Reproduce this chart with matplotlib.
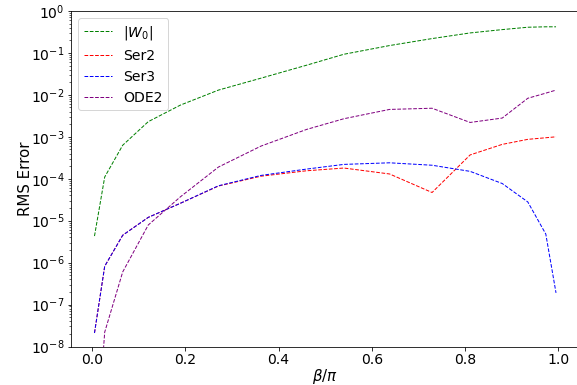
import numpy as np
import matplotlib
matplotlib.use('Agg')
import matplotlib.pyplot as plt

#  ----------------------- DATA ----------------------------------
# beta/pi sample points
beta = [0.0053, 0.0272, 0.0658, 0.1206, 0.1894, 0.2710, 0.3621, 0.4600,
        0.5400, 0.6379, 0.7290, 0.8106, 0.8794, 0.9342, 0.9728, 0.9947]

err_w0 = [4.3e-6, 1.1e-4, 6.3e-4, 2.3e-3, 5.7e-3, 1.3e-2, 2.5e-2, 5.1e-2,
          9.3e-2, 1.5e-1, 2.2e-1, 3.0e-1, 3.6e-1, 4.1e-1, 4.2e-1, 4.2e-1]

err_ser2 = [2.1e-8, 8.2e-7, 4.5e-6, 1.2e-5, 2.6e-5, 6.7e-5, 1.15e-4, 1.55e-4,
            1.8e-4, 1.3e-4, 4.7e-5, 3.7e-4, 6.6e-4, 8.7e-4, 9.5e-4, 1.0e-3]

err_ser3 = [2.1e-8, 8.2e-7, 4.5e-6, 1.2e-5, 2.6e-5, 6.8e-5, 1.2e-4, 1.7e-4,
            2.2e-4, 2.4e-4, 2.1e-4, 1.5e-4, 7.7e-5, 2.8e-5, 4.8e-6, 1.9e-7]

err_ode2 = [1e-11, 2.2e-8, 6.0e-7, 7.9e-6, 3.7e-5, 1.9e-4, 6.0e-4, 1.5e-3,
            2.7e-3, 4.5e-3, 4.8e-3, 2.2e-3, 2.8e-3, 8.3e-3, 1.1e-2, 1.3e-2]

labels = [r'$|W_0|$', 'Ser2', 'Ser3', 'ODE2']
colors = ['green', 'red', 'blue', 'purple']

#  ----------------------- PLOT ----------------------------------
# pixel-sized fonts: work at 72 dpi so 1pt == 1px
fig = plt.figure(figsize=(577 / 72, 385 / 72), dpi=72)
ax = fig.add_axes([71.4 / 577, 0.1, 507.7 / 577, 335.5 / 385])

for y, lab, c in zip([err_w0, err_ser2, err_ser3, err_ode2], labels, colors):
    ax.plot(beta, y, '--', color=c, lw=1.0, label=lab)

ax.set_yscale('log')
ax.set_ylim(1e-8, 1)
ax.set_xlim(-0.0442, 1.0442)
ax.set_xlabel(r'$\beta/\pi$', fontsize=15, labelpad=-1)
ax.set_ylabel('RMS Error', fontsize=15, labelpad=-2)
ax.tick_params(labelsize=14)
ax.legend(loc='upper left', fontsize=14)

fig.savefig('out.png', dpi=72)
